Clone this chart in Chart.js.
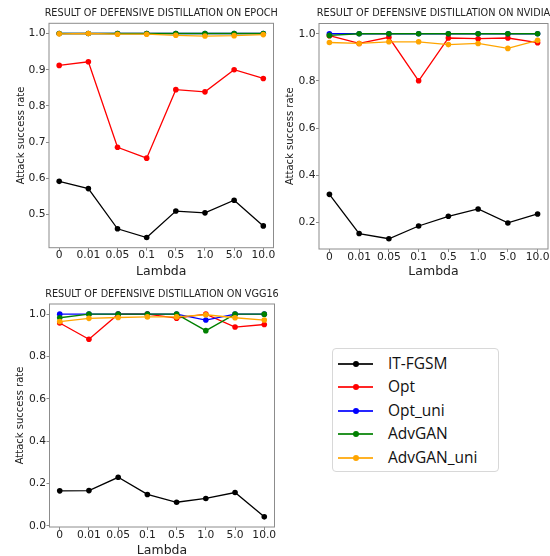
<!DOCTYPE html>
<html>
<head>
<meta charset="utf-8">
<script src="https://cdn.jsdelivr.net/npm/chart.js@4.4.1/dist/chart.umd.min.js"></script>
<style>
  body { margin: 0; background: #fff; width: 550px; height: 556px; position: relative; overflow: hidden; }
  canvas { position: absolute; }
  #legend {
    position: absolute; left: 332px; top: 348px; width: 165px; height: 122px;
    border: 1px solid #d8d8d8; border-radius: 4px; background: #fff;
    font-family: "Open Sans", sans-serif; font-size: 15.5px; color: #111;
  }
  .row { position: absolute; left: 0; height: 20px; width: 160px; }
  .row .ln { position: absolute; left: 5px; top: 9px; width: 35px; height: 2px; opacity: .85; }
  .row .dot { position: absolute; left: 20px; top: 7px; width: 6px; height: 6px; border-radius: 50%; }
  .row span { position: absolute; left: 55px; top: -1px; line-height: 20px; }
</style>
</head>
<body>
<canvas id="epoch"></canvas>
<canvas id="nvidia"></canvas>
<canvas id="vgg"></canvas>
<div id="legend"></div>
<script>
const lambdas = ['0', '0.01', '0.05', '0.1', '0.5', '1.0', '5.0', '10.0'];
const seriesNames = ['IT-FGSM', 'Opt', 'Opt_uni', 'AdvGAN', 'AdvGAN_uni'];
const colors = ['#000000', '#ff0000', '#0000ff', '#008000', '#ffa500'];

// EPOCH
const epochItfgsm = [0.592, 0.572, 0.461, 0.437, 0.510, 0.505, 0.540, 0.469];
const epochOpt = [0.912, 0.922, 0.686, 0.656, 0.845, 0.839, 0.900, 0.876];
const epochOptUni = [1.0, 1.0, 1.0, 1.0, 1.0, 1.0, 1.0, 1.0];
const epochAdvgan = [1.0, 1.0, 1.0, 1.0, 1.0, 1.0, 1.0, 1.0];
const epochAdvganUni = [0.999, 1.0, 0.998, 0.998, 0.995, 0.993, 0.994, 0.997];
const epochTicks = [0.5, 0.6, 0.7, 0.8, 0.9, 1.0];

// NVIDIA
const nvidiaItfgsm = [0.320, 0.154, 0.132, 0.186, 0.227, 0.258, 0.199, 0.237];
const nvidiaOpt = [0.992, 0.959, 0.985, 0.801, 0.982, 0.979, 0.982, 0.962];
const nvidiaOptUni = [1.0, 1.0, 1.0, 1.0, 1.0, 1.0, 1.0, 1.0];
const nvidiaAdvgan = [0.993, 1.0, 1.0, 1.0, 1.0, 1.0, 1.0, 1.0];
const nvidiaAdvganUni = [0.963, 0.959, 0.966, 0.966, 0.954, 0.959, 0.938, 0.972];
const nvidiaTicks = [0.2, 0.4, 0.6, 0.8, 1.0];

// VGG16
const vggItfgsm = [0.165, 0.166, 0.229, 0.148, 0.111, 0.129, 0.157, 0.042];
const vggOpt = [0.958, 0.881, 1.0, 1.0, 0.981, 1.0, 0.939, 0.951];
const vggOptUni = [1.0, 1.0, 1.0, 1.0, 1.0, 0.972, 1.0, 1.0];
const vggAdvgan = [0.983, 1.0, 1.0, 1.0, 1.0, 0.922, 1.0, 1.0];
const vggAdvganUni = [0.965, 0.980, 0.984, 0.987, 0.987, 0.997, 0.983, 0.972];
const vggTicks = [0.0, 0.2, 0.4, 0.6, 0.8, 1.0];

Chart.defaults.font.family = 'DejaVu Sans';
Chart.defaults.color = '#222';

// title + full box frame like matplotlib
const framePlugin = {
  id: 'frame',
  afterDraw(chart, args, opts) {
    const { ctx, chartArea: a } = chart;
    ctx.save();
    ctx.strokeStyle = '#8c8c8c';
    ctx.lineWidth = 1;
    ctx.strokeRect(a.left, a.top, a.right - a.left, a.bottom - a.top);
    ctx.fillStyle = '#222';
    ctx.font = '9.7px "DejaVu Sans"';
    ctx.textAlign = 'center';
    ctx.textBaseline = 'middle';
    ctx.fillText(opts.text, (a.left + a.right) / 2, a.top - opts.gap);
    ctx.restore();
  }
};

function makePanel(id, title, values, yTicks, box) {
  const canvas = document.getElementById(id);
  canvas.width = box.w;
  canvas.height = box.h;
  canvas.style.left = box.x + 'px';
  canvas.style.top = box.y + 'px';

  const all = values.flat();
  const lo = Math.min(...all), hi = Math.max(...all);
  const pad = (hi - lo) * 0.05;

  const datasets = values.map((vals, i) => ({
    label: seriesNames[i],
    data: vals.map((v, j) => ({ x: j, y: v })),
    borderColor: colors[i],
    backgroundColor: colors[i],
    borderWidth: 1.3,
    pointRadius: 2.8,
    pointBorderWidth: 0,
    pointBackgroundColor: colors[i],
    tension: 0,
    order: values.length - 1 - i
  }));

  new Chart(canvas, {
    type: 'line',
    data: { datasets },
    plugins: [framePlugin],
    options: {
      responsive: false,
      animation: false,
      devicePixelRatio: 1,
      layout: { padding: { left: 0, top: box.top, right: box.w - box.right, bottom: 0 } },
      plugins: {
        legend: { display: false },
        tooltip: { enabled: false },
        frame: { text: title, gap: 10 }
      },
      scales: {
        x: {
          type: 'linear',
          min: -0.35,
          max: lambdas.length - 1 + 0.35,
          bounds: 'data',
          afterBuildTicks: s => { s.ticks = lambdas.map((_, i) => ({ value: i })); },
          afterFit: s => { s.height = box.h - box.bottom; },
          ticks: {
            autoSkip: false, maxRotation: 0, padding: -1.5,
            font: { size: 10.7 },
            callback: v => lambdas[v]
          },
          grid: { display: true, drawOnChartArea: false, drawTicks: true, tickLength: 3, color: '#8c8c8c' },
          border: { display: false },
          title: { display: true, text: 'Lambda', font: { size: 12.5 }, padding: { bottom: box.xlab } }
        },
        y: {
          min: lo - pad,
          max: hi + pad,
          bounds: 'data',
          afterBuildTicks: s => { s.ticks = yTicks.map(v => ({ value: v })); },
          afterFit: s => { s.width = box.left; },
          ticks: { padding: 0.5, font: { size: 10.7 }, callback: v => v.toFixed(1) },
          grid: { display: true, drawOnChartArea: false, drawTicks: true, tickLength: 3, color: '#8c8c8c' },
          border: { display: false },
          title: { display: true, text: 'Attack success rate', font: { size: 10 }, padding: { top: box.ylab } }
        }
      }
    }
  });
}

makePanel('epoch', 'RESULT OF DEFENSIVE DISTILLATION ON EPOCH',
  [epochItfgsm, epochOpt, epochOptUni, epochAdvgan, epochAdvganUni], epochTicks,
  { x: 0, y: 0, w: 280, h: 280, left: 49, top: 23.3, right: 273.5, bottom: 247.7, xlab: 0.5, ylab: 15.7 });

makePanel('nvidia', 'RESULT OF DEFENSIVE DISTILLATION ON NVIDIA',
  [nvidiaItfgsm, nvidiaOpt, nvidiaOptUni, nvidiaAdvgan, nvidiaAdvganUni], nvidiaTicks,
  { x: 275, y: 0, w: 285, h: 280, left: 44, top: 23.5, right: 273, bottom: 249, xlab: 0.5, ylab: 9 });

makePanel('vgg', 'RESULT OF DEFENSIVE DISTILLATION ON VGG16',
  [vggItfgsm, vggOpt, vggOptUni, vggAdvgan, vggAdvganUni], vggTicks,
  { x: 0, y: 280, w: 280, h: 290, left: 49.5, top: 24, right: 274.5, bottom: 247, xlab: 11.5, ylab: 14.3 });

// legend
const legend = document.getElementById('legend');
seriesNames.forEach((name, i) => {
  const row = document.createElement('div');
  row.className = 'row';
  row.style.top = (5 + i * 23.4) + 'px';
  row.innerHTML = '<div class="ln" style="background:' + colors[i] + '"></div>' +
    '<div class="dot" style="background:' + colors[i] + '"></div><span>' + name + '</span>';
  legend.appendChild(row);
});
</script>
</body>
</html>
